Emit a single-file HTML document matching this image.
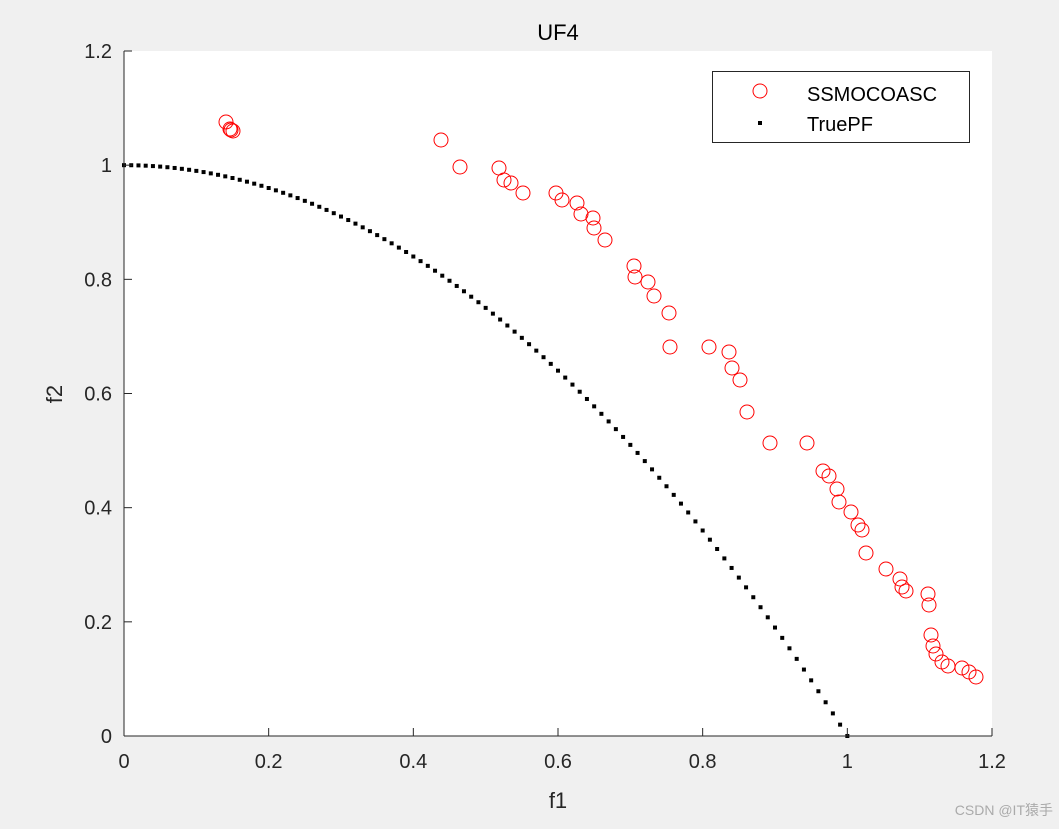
<!DOCTYPE html>
<html><head><meta charset="utf-8"><style>
html,body{margin:0;padding:0;background:#f0f0f0;}
svg{display:block;font-family:"Liberation Sans",Arial,sans-serif;}
</style></head><body>
<svg id="s" width="1059" height="829" viewBox="0 0 1059 829" xmlns="http://www.w3.org/2000/svg">
<rect x="0" y="0" width="1059" height="829" fill="#f0f0f0"/>
<rect x="124" y="51" width="868" height="685" fill="#fff"/>
<g id="pf"></g>
<g id="pts" fill="none" stroke="#ff0000" stroke-width="1"></g>
<g stroke="#262626" stroke-width="1" fill="none">
<line x1="124" y1="736" x2="992" y2="736"/>
<line x1="124" y1="51" x2="124" y2="736"/>
</g>
<g id="ticks" stroke="#262626" stroke-width="1"></g>
<g id="labels" fill="#262626" font-size="20"></g>
<text x="558" y="40" text-anchor="middle" font-size="22" fill="#000">UF4</text>
<text x="558" y="808" text-anchor="middle" font-size="22" fill="#262626">f1</text>
<text x="62" y="394" text-anchor="middle" font-size="22" fill="#262626" transform="rotate(-90 62 394)">f2</text>
<rect x="712.5" y="71.5" width="257" height="71" fill="#fff" stroke="#262626"/>
<circle cx="760" cy="91" r="7" fill="none" stroke="#ff0000"/>
<rect x="758" y="121" width="4" height="4" fill="#000"/>
<text x="807" y="101" font-size="20" fill="#000">SSMOCOASC</text>
<text x="807" y="131" font-size="20" fill="#000">TruePF</text>
<text x="1053" y="815" text-anchor="end" font-size="14" fill="#aaa" font-family="Liberation Sans, Noto Sans CJK SC, sans-serif">CSDN @IT猿手</text>
</svg>
<script>
var NS="http://www.w3.org/2000/svg";
function px(x){return 124+x*723.33;}function py(y){return 736-y*570.83;}
function el(t,a,p){var e=document.createElementNS(NS,t);for(var k in a)e.setAttribute(k,a[k]);document.getElementById(p).appendChild(e);return e;}
for(var i=0;i<=100;i++){var x=i/100,y=1-x*x;el("rect",{x:px(x)-2,y:py(y)-2,width:4,height:4,fill:"#000"},"pf");}
var P=[[226,122],[230,129],[233,131],[231,130],[441,140],[460,167],[499,168],[504,180],[511,183],[523,193],[556,193],[562,200],[577,203],[581,214],[593,218],[594,228],[605,240],[634,266],[635,277],[648,282],[654,296],[669,313],[670,347],[709,347],[729,352],[732,368],[740,380],[747,412],[770,443],[807,443],[823,471],[829,476],[837,489],[839,502],[851,512],[858,525],[862,530],[866,553],[886,569],[900,579],[902,587],[906,591],[928,594],[929,605],[931,635],[933,646],[936,654],[942,662],[948,666],[962,668],[969,672],[976,677]];
P.forEach(function(p){el("circle",{cx:p[0],cy:p[1],r:7},"pts");});
for(var i=0;i<=6;i++){var v=i*0.2,x=px(v),y=py(v);
el("line",{x1:x,y1:736,x2:x,y2:728},"ticks");
el("line",{x1:124,y1:y,x2:132,y2:y},"ticks");
var lab=i==0?"0":(i==5?"1":v.toFixed(1));
var t=el("text",{x:x,y:768,"text-anchor":"middle"},"labels");t.textContent=lab;
var t2=el("text",{x:112,y:y+7,"text-anchor":"end"},"labels");t2.textContent=lab;}
</script>
</body></html>
